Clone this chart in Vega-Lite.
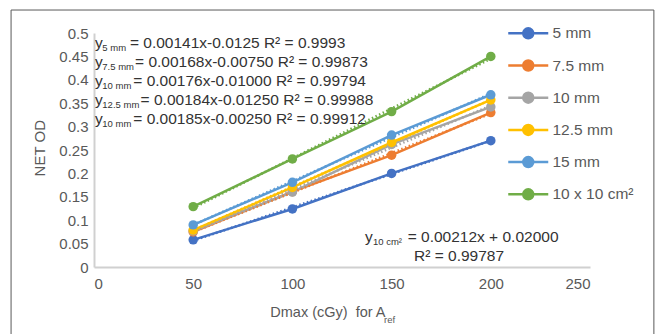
{
  "$schema": "https://vega.github.io/schema/vega-lite/v6.json",
  "width": 496,
  "height": 234,
  "autosize": "none",
  "padding": {"left": 94, "top": 33, "right": 67, "bottom": 67},
  "background": "white",
  "config": {
    "font": "Liberation Sans",
    "view": {"stroke": null},
    "axis": {
      "grid": false,
      "ticks": false,
      "labelOverlap": false,
      "domainColor": "#D0D0D0",
      "domainWidth": 2,
      "labelColor": "#595959",
      "labelFontSize": 15,
      "labelFont": "Liberation Sans",
      "titleFont": "Liberation Sans",
      "titleColor": "#595959",
      "titleFontWeight": "normal"
    },
    "legend": {
      "orient": "none",
      "legendX": 422.75,
      "legendY": -11.2,
      "symbolType": "M-2,0H2M-0.5,0A0.5,0.5,0,1,0,0.5,0A0.5,0.5,0,1,0,-0.5,0Z",
      "symbolSize": 400,
      "symbolStrokeWidth": 2.5,
      "symbolOpacity": 1,
      "labelFont": "Liberation Sans",
      "labelFontSize": 15.5,
      "labelColor": "#595959",
      "labelOffset": 12.75,
      "rowPadding": 10.2,
      "padding": 0
    }
  },
  "datasets": {
    "od": [
      {"dose": 50, "od": 0.058, "series": "5 mm"},
      {"dose": 100, "od": 0.124, "series": "5 mm"},
      {"dose": 150, "od": 0.2, "series": "5 mm"},
      {"dose": 200, "od": 0.27, "series": "5 mm"},
      {"dose": 50, "od": 0.075, "series": "7.5 mm"},
      {"dose": 100, "od": 0.161, "series": "7.5 mm"},
      {"dose": 150, "od": 0.239, "series": "7.5 mm"},
      {"dose": 200, "od": 0.33, "series": "7.5 mm"},
      {"dose": 50, "od": 0.077, "series": "10 mm"},
      {"dose": 100, "od": 0.16, "series": "10 mm"},
      {"dose": 150, "od": 0.262, "series": "10 mm"},
      {"dose": 200, "od": 0.342, "series": "10 mm"},
      {"dose": 50, "od": 0.079, "series": "12.5 mm"},
      {"dose": 100, "od": 0.17, "series": "12.5 mm"},
      {"dose": 150, "od": 0.266, "series": "12.5 mm"},
      {"dose": 200, "od": 0.357, "series": "12.5 mm"},
      {"dose": 50, "od": 0.09, "series": "15 mm"},
      {"dose": 100, "od": 0.181, "series": "15 mm"},
      {"dose": 150, "od": 0.282, "series": "15 mm"},
      {"dose": 200, "od": 0.368, "series": "15 mm"},
      {"dose": 50, "od": 0.129, "series": "10 x 10 cm²"},
      {"dose": 100, "od": 0.231, "series": "10 x 10 cm²"},
      {"dose": 150, "od": 0.332, "series": "10 x 10 cm²"},
      {"dose": 200, "od": 0.45, "series": "10 x 10 cm²"}
    ]
  },
  "layer": [
    {
      "data": {"name": "od"},
      "mark": {"type": "line", "strokeWidth": 2.5},
      "encoding": {
        "x": {
          "field": "dose", "type": "quantitative",
          "scale": {"domain": [0, 250], "nice": false},
          "axis": {"values": [0, 50, 100, 150, 200, 250], "labelPadding": 9, "title": "Dmax (cGy)\u00a0 for A", "titleFontSize": 14.5, "titleX": 233.4, "titleY": 49.7, "titleBaseline": "alphabetic"}
        },
        "y": {
          "field": "od", "type": "quantitative",
          "scale": {"domain": [0, 0.5], "nice": false},
          "axis": {"values": [0, 0.05, 0.1, 0.15, 0.2, 0.25, 0.3, 0.35, 0.4, 0.45, 0.5], "tickCount": 11, "format": ".2~f", "labelPadding": 6, "title": "NET OD", "titleFontSize": 15, "titleAngle": -90, "titleX": -54.3, "titleY": 114.7, "titleBaseline": "middle", "titleAlign": "center"}
        },
        "color": {
          "field": "series", "type": "nominal",
          "scale": {"domain": ["5 mm", "7.5 mm", "10 mm", "12.5 mm", "15 mm", "10 x 10 cm²"], "range": ["#4472C4", "#ED7D31", "#A5A5A5", "#FFC000", "#5B9BD5", "#70AD47"]},
          "legend": {
            "title": null,
            "encode": {
              "symbols": {
                "update": {
                  "fill": {"scale": "color", "field": "value"},
                  "stroke": {"scale": "color", "field": "value"},
                  "strokeWidth": {"value": 2.5},
                  "opacity": {"value": 1}
                }
              }
            }
          }
        }
      }
    },
    {
      "data": {"name": "od"},
      "transform": [{"regression": "od", "on": "dose", "groupby": ["series"], "extent": [50, 200]}],
      "mark": {"type": "line", "strokeWidth": 2.5, "strokeDash": [1.5, 2.5]},
      "encoding": {
        "x": {"field": "dose", "type": "quantitative", "axis": {"values": [0, 50, 100, 150, 200, 250], "labelPadding": 9, "title": "Dmax (cGy)\u00a0 for A", "titleFontSize": 14.5, "titleX": 233.4, "titleY": 49.7, "titleBaseline": "alphabetic"}},
        "y": {"field": "od", "type": "quantitative", "axis": {"values": [0, 0.05, 0.1, 0.15, 0.2, 0.25, 0.3, 0.35, 0.4, 0.45, 0.5], "tickCount": 11, "format": ".2~f", "labelPadding": 6, "title": "NET OD", "titleFontSize": 15, "titleAngle": -90, "titleX": -54.3, "titleY": 114.7, "titleBaseline": "middle", "titleAlign": "center"}},
        "color": {"field": "series", "type": "nominal"}
      }
    },
    {
      "data": {"name": "od"},
      "mark": {"type": "point", "filled": true, "shape": "circle", "size": 90, "opacity": 1},
      "encoding": {
        "x": {"field": "dose", "type": "quantitative", "axis": {"values": [0, 50, 100, 150, 200, 250], "labelPadding": 9, "title": "Dmax (cGy)\u00a0 for A", "titleFontSize": 14.5, "titleX": 233.4, "titleY": 49.7, "titleBaseline": "alphabetic"}},
        "y": {"field": "od", "type": "quantitative", "axis": {"values": [0, 0.05, 0.1, 0.15, 0.2, 0.25, 0.3, 0.35, 0.4, 0.45, 0.5], "tickCount": 11, "format": ".2~f", "labelPadding": 6, "title": "NET OD", "titleFontSize": 15, "titleAngle": -90, "titleX": -54.3, "titleY": 114.7, "titleBaseline": "middle", "titleAlign": "center"}},
        "color": {"field": "series", "type": "nominal"}
      }
    },
    {
      "data": {"values": [{}]},
      "mark": {"type": "rect", "filled": false, "stroke": "#595959", "strokeWidth": 1},
      "encoding": {
        "x": {"datum": -41.8, "type": "quantitative", "axis": {"values": [0, 50, 100, 150, 200, 250], "labelPadding": 9, "title": "Dmax (cGy)\u00a0 for A", "titleFontSize": 14.5, "titleX": 233.4, "titleY": 49.7, "titleBaseline": "alphabetic"}},
        "x2": {"datum": 282.2},
        "y": {"datum": 0.5491, "type": "quantitative", "axis": {"values": [0, 0.05, 0.1, 0.15, 0.2, 0.25, 0.3, 0.35, 0.4, 0.45, 0.5], "tickCount": 11, "format": ".2~f", "labelPadding": 6, "title": "NET OD", "titleFontSize": 15, "titleAngle": -90, "titleX": -54.3, "titleY": 114.7, "titleBaseline": "middle", "titleAlign": "center"}},
        "y2": {"datum": -0.2}
      }
    },
    {
      "data": {"values": [{}]},
      "layer": [
        {
          "mark": {"type": "text", "text": ["y", "y", "y", "y", "y"], "align": "left", "baseline": "alphabetic", "fontSize": 15.5, "lineHeight": 19, "color": "#333333"},
          "encoding": {"x": {"datum": 0.5, "type": "quantitative", "axis": {"values": [0, 50, 100, 150, 200, 250], "labelPadding": 9, "title": "Dmax (cGy)\u00a0 for A", "titleFontSize": 14.5, "titleX": 233.4, "titleY": 49.7, "titleBaseline": "alphabetic"}}, "y": {"datum": 0.4673, "type": "quantitative", "axis": {"values": [0, 0.05, 0.1, 0.15, 0.2, 0.25, 0.3, 0.35, 0.4, 0.45, 0.5], "tickCount": 11, "format": ".2~f", "labelPadding": 6, "title": "NET OD", "titleFontSize": 15, "titleAngle": -90, "titleX": -54.3, "titleY": 114.7, "titleBaseline": "middle", "titleAlign": "center"}}}
        },
        {
          "mark": {"type": "text", "text": ["5 mm", "7.5 mm", "10 mm", "12.5 mm", "10 mm"], "align": "left", "baseline": "alphabetic", "fontSize": 9.5, "lineHeight": 19, "color": "#333333"},
          "encoding": {"x": {"datum": 4.2, "type": "quantitative", "axis": {"values": [0, 50, 100, 150, 200, 250], "labelPadding": 9, "title": "Dmax (cGy)\u00a0 for A", "titleFontSize": 14.5, "titleX": 233.4, "titleY": 49.7, "titleBaseline": "alphabetic"}}, "y": {"datum": 0.462, "type": "quantitative", "axis": {"values": [0, 0.05, 0.1, 0.15, 0.2, 0.25, 0.3, 0.35, 0.4, 0.45, 0.5], "tickCount": 11, "format": ".2~f", "labelPadding": 6, "title": "NET OD", "titleFontSize": 15, "titleAngle": -90, "titleX": -54.3, "titleY": 114.7, "titleBaseline": "middle", "titleAlign": "center"}}}
        },
        {
          "mark": {"type": "text", "text": "= 0.00141x-0.0125 R² = 0.9993", "align": "left", "baseline": "alphabetic", "fontSize": 15.5, "color": "#333333"},
          "encoding": {"x": {"datum": 18.1, "type": "quantitative", "axis": {"values": [0, 50, 100, 150, 200, 250], "labelPadding": 9, "title": "Dmax (cGy)\u00a0 for A", "titleFontSize": 14.5, "titleX": 233.4, "titleY": 49.7, "titleBaseline": "alphabetic"}}, "y": {"datum": 0.4673, "type": "quantitative", "axis": {"values": [0, 0.05, 0.1, 0.15, 0.2, 0.25, 0.3, 0.35, 0.4, 0.45, 0.5], "tickCount": 11, "format": ".2~f", "labelPadding": 6, "title": "NET OD", "titleFontSize": 15, "titleAngle": -90, "titleX": -54.3, "titleY": 114.7, "titleBaseline": "middle", "titleAlign": "center"}}}
        },
        {
          "mark": {"type": "text", "text": "= 0.00168x-0.00750 R² = 0.99873", "align": "left", "baseline": "alphabetic", "fontSize": 15.5, "color": "#333333"},
          "encoding": {"x": {"datum": 20.7, "type": "quantitative", "axis": {"values": [0, 50, 100, 150, 200, 250], "labelPadding": 9, "title": "Dmax (cGy)\u00a0 for A", "titleFontSize": 14.5, "titleX": 233.4, "titleY": 49.7, "titleBaseline": "alphabetic"}}, "y": {"datum": 0.4267, "type": "quantitative", "axis": {"values": [0, 0.05, 0.1, 0.15, 0.2, 0.25, 0.3, 0.35, 0.4, 0.45, 0.5], "tickCount": 11, "format": ".2~f", "labelPadding": 6, "title": "NET OD", "titleFontSize": 15, "titleAngle": -90, "titleX": -54.3, "titleY": 114.7, "titleBaseline": "middle", "titleAlign": "center"}}}
        },
        {
          "mark": {"type": "text", "text": "= 0.00176x-0.01000 R² = 0.99794", "align": "left", "baseline": "alphabetic", "fontSize": 15.5, "color": "#333333"},
          "encoding": {"x": {"datum": 19.8, "type": "quantitative", "axis": {"values": [0, 50, 100, 150, 200, 250], "labelPadding": 9, "title": "Dmax (cGy)\u00a0 for A", "titleFontSize": 14.5, "titleX": 233.4, "titleY": 49.7, "titleBaseline": "alphabetic"}}, "y": {"datum": 0.3861, "type": "quantitative", "axis": {"values": [0, 0.05, 0.1, 0.15, 0.2, 0.25, 0.3, 0.35, 0.4, 0.45, 0.5], "tickCount": 11, "format": ".2~f", "labelPadding": 6, "title": "NET OD", "titleFontSize": 15, "titleAngle": -90, "titleX": -54.3, "titleY": 114.7, "titleBaseline": "middle", "titleAlign": "center"}}}
        },
        {
          "mark": {"type": "text", "text": "= 0.00184x-0.01250 R² = 0.99988", "align": "left", "baseline": "alphabetic", "fontSize": 15.5, "color": "#333333"},
          "encoding": {"x": {"datum": 23.5, "type": "quantitative", "axis": {"values": [0, 50, 100, 150, 200, 250], "labelPadding": 9, "title": "Dmax (cGy)\u00a0 for A", "titleFontSize": 14.5, "titleX": 233.4, "titleY": 49.7, "titleBaseline": "alphabetic"}}, "y": {"datum": 0.3455, "type": "quantitative", "axis": {"values": [0, 0.05, 0.1, 0.15, 0.2, 0.25, 0.3, 0.35, 0.4, 0.45, 0.5], "tickCount": 11, "format": ".2~f", "labelPadding": 6, "title": "NET OD", "titleFontSize": 15, "titleAngle": -90, "titleX": -54.3, "titleY": 114.7, "titleBaseline": "middle", "titleAlign": "center"}}}
        },
        {
          "mark": {"type": "text", "text": "= 0.00185x-0.00250 R² = 0.99912", "align": "left", "baseline": "alphabetic", "fontSize": 15.5, "color": "#333333"},
          "encoding": {"x": {"datum": 19.8, "type": "quantitative", "axis": {"values": [0, 50, 100, 150, 200, 250], "labelPadding": 9, "title": "Dmax (cGy)\u00a0 for A", "titleFontSize": 14.5, "titleX": 233.4, "titleY": 49.7, "titleBaseline": "alphabetic"}}, "y": {"datum": 0.3049, "type": "quantitative", "axis": {"values": [0, 0.05, 0.1, 0.15, 0.2, 0.25, 0.3, 0.35, 0.4, 0.45, 0.5], "tickCount": 11, "format": ".2~f", "labelPadding": 6, "title": "NET OD", "titleFontSize": 15, "titleAngle": -90, "titleX": -54.3, "titleY": 114.7, "titleBaseline": "middle", "titleAlign": "center"}}}
        },
        {
          "mark": {"type": "text", "text": "y", "align": "left", "baseline": "alphabetic", "fontSize": 15.5, "color": "#333333"},
          "encoding": {"x": {"datum": 136.6, "type": "quantitative", "axis": {"values": [0, 50, 100, 150, 200, 250], "labelPadding": 9, "title": "Dmax (cGy)\u00a0 for A", "titleFontSize": 14.5, "titleX": 233.4, "titleY": 49.7, "titleBaseline": "alphabetic"}}, "y": {"datum": 0.054, "type": "quantitative", "axis": {"values": [0, 0.05, 0.1, 0.15, 0.2, 0.25, 0.3, 0.35, 0.4, 0.45, 0.5], "tickCount": 11, "format": ".2~f", "labelPadding": 6, "title": "NET OD", "titleFontSize": 15, "titleAngle": -90, "titleX": -54.3, "titleY": 114.7, "titleBaseline": "middle", "titleAlign": "center"}}}
        },
        {
          "mark": {"type": "text", "text": "10 cm²", "align": "left", "baseline": "alphabetic", "fontSize": 9.5, "color": "#333333"},
          "encoding": {"x": {"datum": 140.6, "type": "quantitative", "axis": {"values": [0, 50, 100, 150, 200, 250], "labelPadding": 9, "title": "Dmax (cGy)\u00a0 for A", "titleFontSize": 14.5, "titleX": 233.4, "titleY": 49.7, "titleBaseline": "alphabetic"}}, "y": {"datum": 0.048, "type": "quantitative", "axis": {"values": [0, 0.05, 0.1, 0.15, 0.2, 0.25, 0.3, 0.35, 0.4, 0.45, 0.5], "tickCount": 11, "format": ".2~f", "labelPadding": 6, "title": "NET OD", "titleFontSize": 15, "titleAngle": -90, "titleX": -54.3, "titleY": 114.7, "titleBaseline": "middle", "titleAlign": "center"}}}
        },
        {
          "mark": {"type": "text", "text": "= 0.00212x + 0.02000", "align": "left", "baseline": "alphabetic", "fontSize": 15.5, "color": "#333333"},
          "encoding": {"x": {"datum": 158.1, "type": "quantitative", "axis": {"values": [0, 50, 100, 150, 200, 250], "labelPadding": 9, "title": "Dmax (cGy)\u00a0 for A", "titleFontSize": 14.5, "titleX": 233.4, "titleY": 49.7, "titleBaseline": "alphabetic"}}, "y": {"datum": 0.054, "type": "quantitative", "axis": {"values": [0, 0.05, 0.1, 0.15, 0.2, 0.25, 0.3, 0.35, 0.4, 0.45, 0.5], "tickCount": 11, "format": ".2~f", "labelPadding": 6, "title": "NET OD", "titleFontSize": 15, "titleAngle": -90, "titleX": -54.3, "titleY": 114.7, "titleBaseline": "middle", "titleAlign": "center"}}}
        },
        {
          "mark": {"type": "text", "text": "R² = 0.99787", "align": "left", "baseline": "alphabetic", "fontSize": 15.5, "color": "#333333"},
          "encoding": {"x": {"datum": 161.3, "type": "quantitative", "axis": {"values": [0, 50, 100, 150, 200, 250], "labelPadding": 9, "title": "Dmax (cGy)\u00a0 for A", "titleFontSize": 14.5, "titleX": 233.4, "titleY": 49.7, "titleBaseline": "alphabetic"}}, "y": {"datum": 0.0128, "type": "quantitative", "axis": {"values": [0, 0.05, 0.1, 0.15, 0.2, 0.25, 0.3, 0.35, 0.4, 0.45, 0.5], "tickCount": 11, "format": ".2~f", "labelPadding": 6, "title": "NET OD", "titleFontSize": 15, "titleAngle": -90, "titleX": -54.3, "titleY": 114.7, "titleBaseline": "middle", "titleAlign": "center"}}}
        },
        {
          "mark": {"type": "text", "text": "ref", "align": "left", "baseline": "alphabetic", "fontSize": 9.5, "color": "#595959"},
          "encoding": {"x": {"datum": 146.2, "type": "quantitative", "axis": {"values": [0, 50, 100, 150, 200, 250], "labelPadding": 9, "title": "Dmax (cGy)\u00a0 for A", "titleFontSize": 14.5, "titleX": 233.4, "titleY": 49.7, "titleBaseline": "alphabetic"}}, "y": {"datum": -0.1197, "type": "quantitative", "axis": {"values": [0, 0.05, 0.1, 0.15, 0.2, 0.25, 0.3, 0.35, 0.4, 0.45, 0.5], "tickCount": 11, "format": ".2~f", "labelPadding": 6, "title": "NET OD", "titleFontSize": 15, "titleAngle": -90, "titleX": -54.3, "titleY": 114.7, "titleBaseline": "middle", "titleAlign": "center"}}}
        }
      ]
    }
  ]
}
